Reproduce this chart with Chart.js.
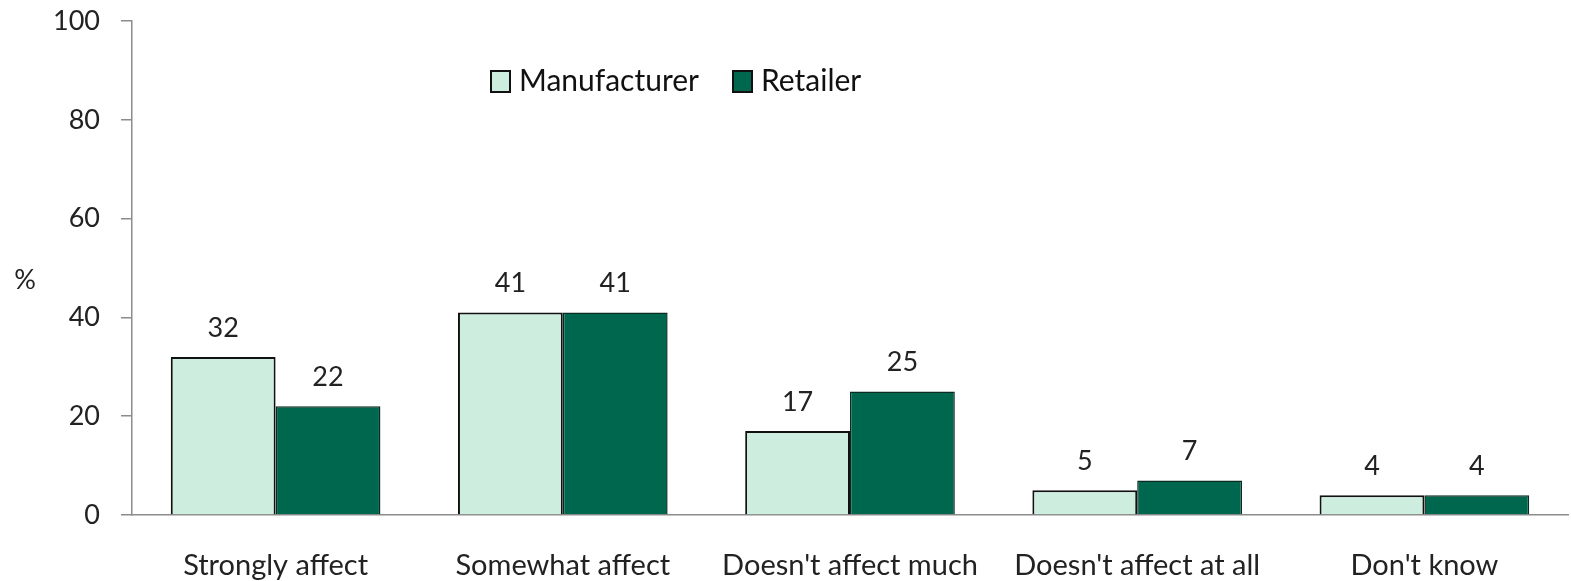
<!DOCTYPE html>
<html>
<head>
<meta charset="utf-8">
<script src="https://cdn.jsdelivr.net/npm/chart.js@4"></script>
<style>
  html, body { margin: 0; padding: 0; background: #fff; }
  canvas { display: block; }
</style>
</head>
<body>
<canvas id="chart" width="1571" height="581"></canvas>
<script>
const categories = ["Strongly affect", "Somewhat affect", "Doesn't affect much", "Doesn't affect at all", "Don't know"];
const manufacturer = [32, 41, 17, 5, 4];
const retailer = [22, 41, 25, 7, 4];
const yTicks = [0, 20, 40, 60, 80, 100];

const FONT = "Lato, 'Open Sans', sans-serif";
const lightGreen = "#cdeddf";
const darkGreen = "#00674f";

// value labels above each bar
const valueLabels = {
  id: "valueLabels",
  afterDatasetsDraw(chart) {
    const ctx = chart.ctx;
    ctx.save();
    ctx.font = "27px " + FONT;
    ctx.fillStyle = "#222";
    ctx.textAlign = "center";
    ctx.textBaseline = "middle";
    chart.data.datasets.forEach((ds, i) => {
      chart.getDatasetMeta(i).data.forEach((bar, j) => {
        ctx.fillText(ds.data[j], bar.x, bar.y - 29);
      });
    });
    ctx.restore();
  }
};

// legend inside the plot + "%" axis label
const extras = {
  id: "extras",
  afterDraw(chart) {
    const ctx = chart.ctx;
    ctx.save();
    ctx.font = "27px " + FONT;
    ctx.fillStyle = "#222";
    ctx.textAlign = "center";
    ctx.textBaseline = "middle";
    ctx.fillText("%", 25, 280);

    const items = [
      { x: 491, ds: chart.data.datasets[0] },
      { x: 733, ds: chart.data.datasets[1] }
    ];
    ctx.font = "30px " + FONT;
    ctx.textAlign = "left";
    items.forEach(it => {
      ctx.fillStyle = it.ds.backgroundColor;
      ctx.fillRect(it.x, 71, 19, 21);
      ctx.lineWidth = 2;
      ctx.strokeStyle = "#111";
      ctx.strokeRect(it.x, 71, 19, 21);
      ctx.fillStyle = "#111";
      ctx.fillText(it.ds.label, it.x + 28, 81);
    });
    ctx.restore();
  }
};

new Chart(document.getElementById("chart"), {
  type: "bar",
  data: {
    labels: categories,
    datasets: [
      {
        label: "Manufacturer",
        data: manufacturer,
        backgroundColor: lightGreen,
        borderColor: "#111",
        borderWidth: 2,
        categoryPercentage: 0.73,
        barPercentage: 1
      },
      {
        label: "Retailer",
        data: retailer,
        backgroundColor: darkGreen,
        borderColor: "#0b2b22",
        borderWidth: 1.5,
        categoryPercentage: 0.73,
        barPercentage: 1
      }
    ]
  },
  options: {
    responsive: false,
    devicePixelRatio: 1,
    animation: false,
    layout: { padding: { top: 21, right: 3, bottom: 0, left: 0 } },
    plugins: {
      legend: { display: false },
      tooltip: { enabled: false }
    },
    scales: {
      x: {
        grid: { display: false, drawTicks: false },
        border: { display: true, color: "#8c8c8c", width: 1.5 },
        ticks: {
          padding: 33,
          color: "#222",
          font: { family: FONT, size: 29 },
          maxRotation: 0
        },
        afterFit(scale) { scale.height = 66; }
      },
      y: {
        min: 0,
        max: 100,
        afterBuildTicks(scale) { scale.ticks = yTicks.map(v => ({ value: v })); },
        grid: {
          drawOnChartArea: false,
          drawTicks: true,
          tickLength: 11,
          color: "#8c8c8c",
          lineWidth: 1.5
        },
        border: { display: true, color: "#8c8c8c", width: 1.5 },
        ticks: {
          padding: 21,
          color: "#222",
          font: { family: FONT, size: 27 }
        },
        afterFit(scale) {
          scale.width = 132;
          scale.paddingTop = 0;
          scale.paddingBottom = 0;
        }
      }
    }
  },
  plugins: [valueLabels, extras]
});
</script>
</body>
</html>
